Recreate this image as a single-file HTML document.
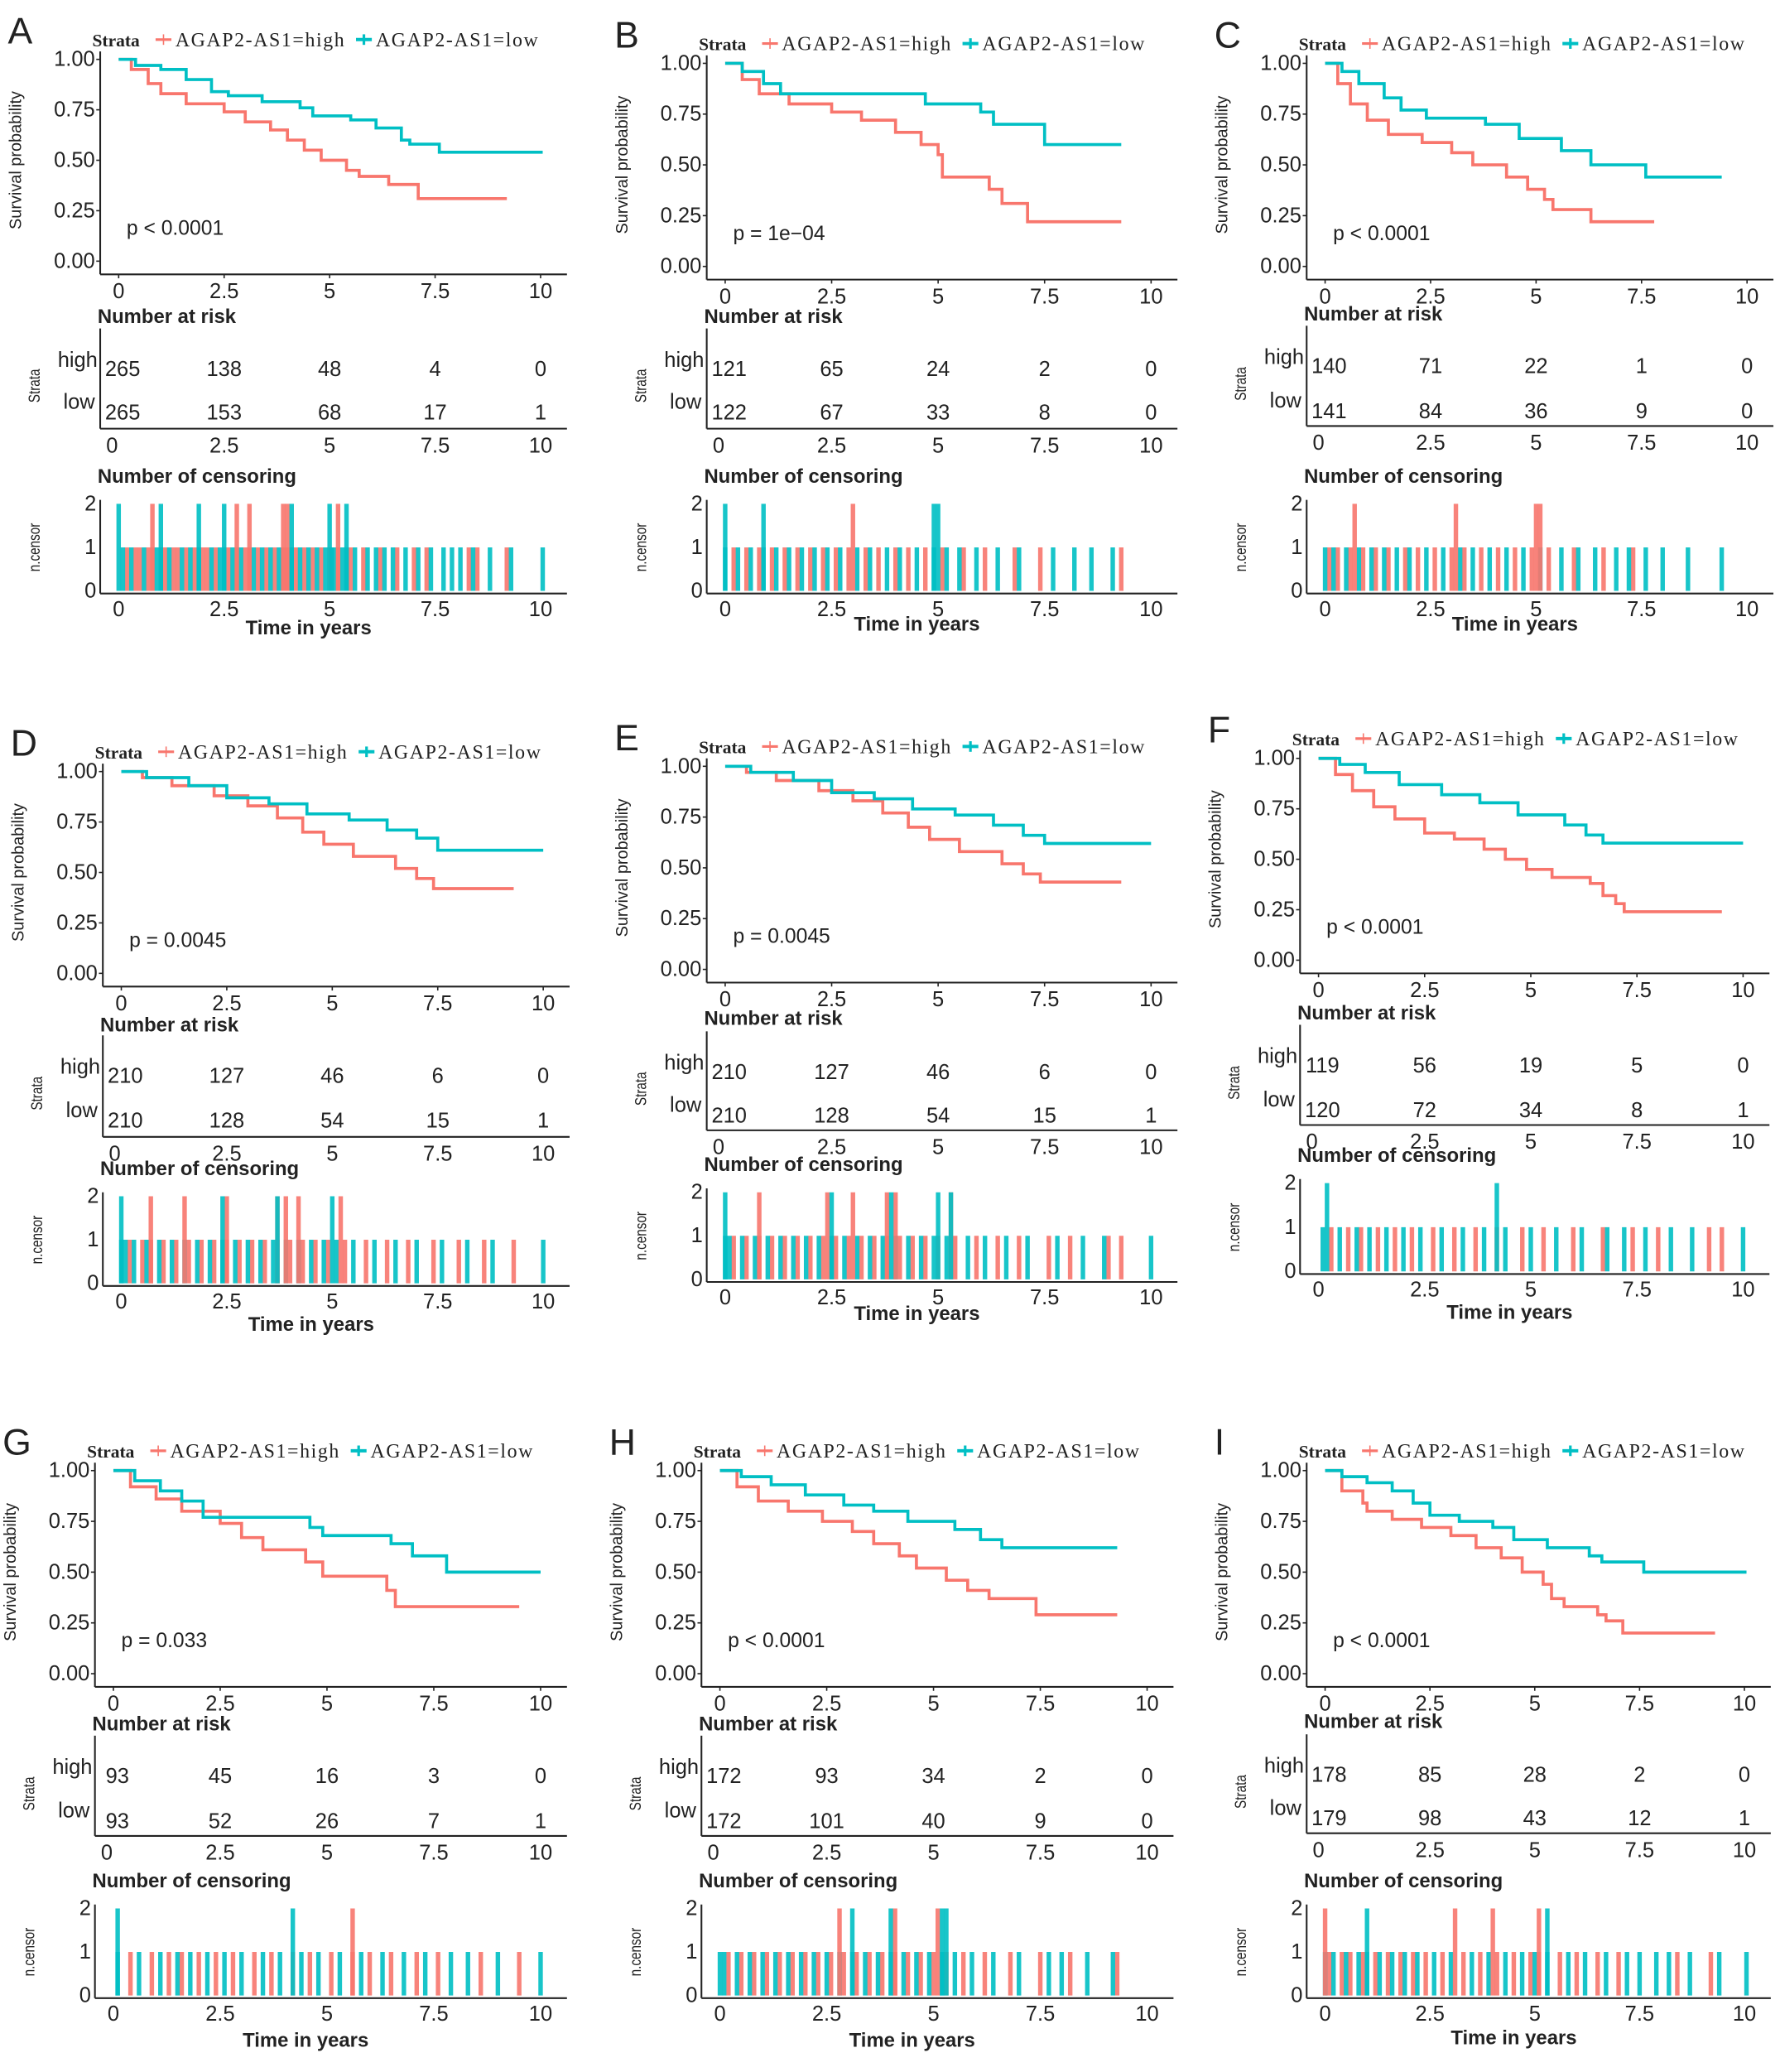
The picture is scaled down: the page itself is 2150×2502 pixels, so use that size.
<!DOCTYPE html>
<html><head><meta charset="utf-8"><style>
html,body{margin:0;padding:0;background:#fff;}
svg{display:block;}
text{font-family:"Liberation Sans",sans-serif;fill:#222;}
.serif{font-family:"Liberation Serif",serif;}
</style></head><body>
<svg id="fig" width="2150" height="2502" viewBox="0 0 1350 1571" xmlns="http://www.w3.org/2000/svg"></svg>
<script>
// ---------- DATA ----------
const ticks = [0, 2.5, 5, 7.5, 10];
const tickLabels = ["0", "2.5", "5", "7.5", "10"];
const panelLetters = ["A","B","C","D","E","F","G","H","I"];
const pValues = ["p < 0.0001","p = 1e\u221204","p < 0.0001","p = 0.0045","p = 0.0045","p < 0.0001","p = 0.033","p < 0.0001","p < 0.0001"];
// survival step curves [time, survival after step]
const survA_high=[[0.3,0.95],[0.7,0.88],[1.0,0.83],[1.6,0.78],[2.5,0.74],[3.0,0.69],[3.6,0.65],[4.0,0.6],[4.4,0.55],[4.8,0.5],[5.4,0.45],[5.7,0.42],[6.4,0.38],[7.1,0.31]];
const survA_low=[[0.4,0.97],[1.0,0.95],[1.6,0.9],[2.2,0.84],[2.6,0.82],[3.4,0.79],[4.3,0.76],[4.6,0.72],[5.5,0.7],[6.1,0.66],[6.7,0.6],[6.9,0.58],[7.6,0.54]];
const survB_high=[[0.4,0.92],[0.8,0.85],[1.5,0.8],[2.5,0.76],[3.2,0.72],[4.0,0.66],[4.6,0.6],[5.0,0.55],[5.1,0.44],[6.2,0.38],[6.5,0.31],[7.1,0.22]];
const survB_low=[[0.4,0.96],[0.9,0.9],[1.3,0.85],[4.7,0.8],[6.0,0.76],[6.3,0.7],[7.5,0.6]];
const survC_high=[[0.3,0.9],[0.6,0.8],[1.0,0.72],[1.5,0.65],[2.3,0.61],[3.0,0.56],[3.5,0.5],[4.3,0.44],[4.8,0.38],[5.2,0.33],[5.4,0.28],[6.3,0.22]];
const survC_low=[[0.4,0.96],[0.8,0.9],[1.4,0.83],[1.8,0.77],[2.4,0.73],[3.8,0.7],[4.6,0.63],[5.6,0.57],[6.3,0.5],[7.6,0.44]];
const survD_high=[[0.5,0.97],[1.2,0.93],[2.2,0.88],[3.0,0.83],[3.7,0.77],[4.3,0.7],[4.8,0.64],[5.5,0.58],[6.5,0.52],[7.0,0.47],[7.4,0.42]];
const survD_low=[[0.6,0.97],[1.6,0.93],[2.5,0.87],[3.5,0.84],[4.4,0.79],[5.4,0.76],[6.3,0.71],[7.0,0.67],[7.5,0.61]];
const survE_high=[[0.5,0.97],[1.2,0.93],[2.2,0.88],[3.0,0.83],[3.7,0.77],[4.3,0.7],[4.8,0.64],[5.5,0.58],[6.5,0.52],[7.0,0.47],[7.4,0.43]];
const survE_low=[[0.6,0.97],[1.6,0.93],[2.5,0.87],[3.5,0.84],[4.4,0.79],[5.4,0.76],[6.3,0.71],[7.0,0.66],[7.5,0.62]];
const survF_high=[[0.4,0.92],[0.8,0.84],[1.3,0.76],[1.8,0.7],[2.5,0.63],[3.2,0.6],[3.9,0.55],[4.4,0.5],[4.9,0.45],[5.5,0.41],[6.4,0.38],[6.7,0.32],[7.0,0.28],[7.2,0.24]];
const survF_low=[[0.5,0.97],[1.1,0.93],[1.9,0.87],[2.9,0.82],[3.8,0.78],[4.7,0.72],[5.8,0.67],[6.3,0.62],[6.7,0.58]];
const survG_high=[[0.4,0.92],[1.0,0.86],[1.6,0.8],[2.5,0.74],[3.0,0.67],[3.5,0.61],[4.5,0.55],[4.9,0.48],[6.4,0.41],[6.6,0.33]];
const survG_low=[[0.5,0.95],[1.1,0.9],[1.6,0.85],[2.1,0.77],[4.6,0.72],[4.9,0.68],[6.5,0.64],[7.0,0.58],[7.8,0.5]];
const survH_high=[[0.4,0.92],[0.9,0.85],[1.6,0.8],[2.4,0.75],[3.1,0.7],[3.6,0.64],[4.2,0.58],[4.6,0.52],[5.3,0.46],[5.8,0.41],[6.3,0.37],[7.4,0.29]];
const survH_low=[[0.5,0.97],[1.2,0.93],[2.0,0.88],[2.9,0.83],[3.6,0.8],[4.4,0.75],[5.5,0.71],[6.1,0.66],[6.6,0.62]];
const survI_high=[[0.4,0.9],[0.9,0.84],[1.0,0.8],[1.6,0.76],[2.3,0.72],[3.0,0.68],[3.6,0.62],[4.2,0.57],[4.7,0.5],[5.2,0.44],[5.4,0.37],[5.7,0.33],[6.5,0.29],[6.7,0.26],[7.1,0.2]];
const survI_low=[[0.4,0.97],[1.0,0.94],[1.6,0.9],[2.1,0.84],[2.5,0.78],[3.2,0.75],[4.0,0.72],[4.5,0.66],[5.3,0.62],[6.3,0.58],[6.6,0.55],[7.6,0.5]];
const endHigh=[9.2,9.3,7.8,9.3,9.3,9.5,9.5,9.3,9.3];
const endLow=[10.05,9.3,9.4,10.0,10.0,10.0,10.0,9.3,10.05];
// risk tables
const riskHigh=[[265,138,48,4,0],[121,65,24,2,0],[140,71,22,1,0],[210,127,46,6,0],[210,127,46,6,0],[119,56,19,5,0],[93,45,16,3,0],[172,93,34,2,0],[178,85,28,2,0]];
const riskLow=[[265,153,68,17,1],[122,67,33,8,0],[141,84,36,9,0],[210,128,54,15,1],[210,128,54,15,1],[120,72,34,8,1],[93,52,26,7,1],[172,101,40,9,0],[179,98,43,12,1]];
// censoring times (count 1) and times with count 2
const censHighA=[0.2,0.4,0.5,0.7,0.8,1.1,1.3,1.4,1.6,1.8,2.0,2.1,2.3,2.6,2.8,3.0,3.1,3.3,3.5,3.7,3.9,4.0,4.2,4.4,4.6,4.8,5.0,5.2,5.5,5.8,6.2,6.6,7.0,7.3,8.3,8.5,9.2];
const censLowA=[0.1,0.3,0.6,0.9,1.0,1.2,1.5,1.7,1.9,2.2,2.4,2.5,2.7,2.9,3.2,3.4,3.6,3.8,4.1,4.3,4.5,4.7,4.9,5.05,5.1,5.3,5.4,5.6,5.9,6.1,6.3,6.5,6.8,7.1,7.4,7.7,7.9,8.1,8.4,8.8,9.3,10.05];
const cens2HighA=[0.8,2.8,3.1,3.9,4.0,5.2];const cens2LowA=[0.0,1.0,1.9,2.5,4.1,5.0,5.4];
const censHighB=[0.2,0.5,0.8,1.1,1.4,1.7,2.0,2.3,2.6,2.9,3.3,3.6,4.0,4.3,4.7,5.1,5.6,6.1,6.8,7.4,9.3];
const censLowB=[0.0,0.3,0.6,0.9,1.2,1.5,1.8,2.1,2.4,2.7,3.1,3.4,3.8,4.1,4.5,4.9,5.2,5.5,5.9,6.4,6.9,7.7,8.2,8.6,9.1];
const cens2HighB=[3.0];const cens2LowB=[0.0,0.9,4.9,5.0];
const censHighC=[0.1,0.3,0.6,0.9,1.2,1.5,1.9,2.2,2.6,3.0,3.3,3.7,4.1,4.5,4.9,5.3,5.9,6.6,7.3];
const censLowC=[0.0,0.2,0.5,0.8,1.1,1.4,1.7,2.0,2.4,2.8,3.2,3.5,3.9,4.3,4.7,5.1,5.6,6.0,6.4,6.9,7.2,7.6,8.0,8.6,9.4];
const cens2HighC=[0.7,3.1,5.0,5.1];const cens2LowC=[];
const censHighD=[0.2,0.5,0.7,1.0,1.3,1.6,1.9,2.2,2.5,2.8,3.1,3.4,3.7,4.0,4.3,4.6,4.9,5.3,5.8,6.3,6.8,7.4,8.0,8.6,9.3];
const censLowD=[0.0,0.1,0.3,0.6,0.9,1.2,1.5,1.8,2.1,2.4,2.7,3.0,3.3,3.6,3.9,4.2,4.5,4.8,5.1,5.5,6.0,6.5,7.0,7.6,8.2,8.8,10.0];
const cens2HighD=[0.7,1.5,2.5,3.7,3.9,4.2,5.2];const cens2LowD=[0.0,2.4,3.7,5.0];
const censHighE=[0.2,0.5,0.8,1.1,1.4,1.7,2.0,2.3,2.6,2.9,3.2,3.5,3.8,4.1,4.4,4.7,5.0,5.4,5.9,6.4,6.9,7.6,8.1,9.0,9.3];
const censLowE=[0.0,0.1,0.4,0.7,1.0,1.3,1.6,1.9,2.2,2.5,2.8,3.1,3.4,3.7,4.0,4.3,4.6,4.9,5.2,5.7,6.1,6.6,7.1,7.8,8.4,8.9,10.0];
const cens2HighE=[0.8,2.4,3.0,3.8,4.0,5.3];const cens2LowE=[0.0,2.5,3.9,5.0,5.3];
const censHighF=[0.3,0.7,1.0,1.4,1.8,2.2,2.7,3.2,3.7,4.2,4.8,5.3,6.0,6.7,7.4,8.0,9.2,9.5];
const censLowF=[0.1,0.5,0.9,1.2,1.6,2.0,2.4,2.9,3.4,3.9,4.4,5.0,5.6,6.2,6.8,7.2,7.7,8.3,8.8,10.0];
const cens2HighF=[];const cens2LowF=[0.2,4.2];
const censHighG=[0.4,0.9,1.3,1.6,2.0,2.4,2.8,3.3,3.7,4.2,4.6,5.1,5.6,6.0,6.5,7.1,7.6,8.6,9.5];
const censLowG=[0.1,0.6,1.1,1.5,1.8,2.2,2.6,3.0,3.5,3.9,4.4,4.8,5.3,5.8,6.3,6.8,7.3,7.9,8.3,9.0,10.0];
const cens2HighG=[5.6];const cens2LowG=[0.1,4.2];
const censHighH=[0.2,0.5,0.8,1.1,1.4,1.7,2.0,2.3,2.6,2.9,3.2,3.5,3.8,4.1,4.4,4.7,5.0,5.3,5.7,6.2,6.8,7.5,8.2,9.3];
const censLowH=[0.0,0.1,0.4,0.7,1.0,1.3,1.6,1.9,2.2,2.5,2.8,3.1,3.4,3.7,4.0,4.3,4.6,4.9,5.2,5.5,5.9,6.4,7.0,7.7,8.0,8.6,9.2];
const cens2HighH=[2.8,4.1,5.1];const cens2LowH=[3.1,4.0,5.2,5.3];
const censHighI=[0.1,0.4,0.6,0.9,1.2,1.5,1.8,2.1,2.4,2.8,3.3,3.7,4.1,4.5,4.9,5.1,5.6,6.0,6.5,7.0,8.4,9.2];
const censLowI=[0.0,0.2,0.5,0.8,1.0,1.3,1.6,1.9,2.2,2.6,3.0,3.5,3.9,4.3,4.7,5.0,5.3,5.8,6.2,6.7,7.2,7.5,7.9,8.2,8.7,9.4,10.05];
const cens2HighI=[0.0,3.1,4.0,5.1];const cens2LowI=[1.0,5.3];

// ---------- LAYOUT (overview coords) ----------
const layout=[
 {t0:90,t10:410,y1:45,y0:198,rh:279,rl:312,rt:338,c2:382,c0:448,tl:481},
 {t0:550,t10:873,y1:48,y0:202,rh:279,rl:312,rt:338,c2:382,c0:448,tl:478},
 {t0:1005,t10:1325,y1:48,y0:202,rh:277,rl:311,rt:336,c2:382,c0:448,tl:478},
 {t0:92,t10:412,y1:585,y0:738,rh:815,rl:849,rt:875,c2:907,c0:973,tl:1009},
 {t0:550,t10:873,y1:581,y0:735,rh:812,rl:845,rt:870,c2:904,c0:970,tl:1001},
 {t0:1000,t10:1322,y1:575,y0:728,rh:807,rl:841,rt:866,c2:897,c0:964,tl:1000},
 {t0:86,t10:410,y1:1115,y0:1269,rh:1346,rl:1380,rt:1405,c2:1447,c0:1513,tl:1552},
 {t0:546,t10:870,y1:1115,y0:1269,rh:1346,rl:1380,rt:1405,c2:1447,c0:1513,tl:1552},
 {t0:1005,t10:1323,y1:1115,y0:1269,rh:1345,rl:1378,rt:1403,c2:1447,c0:1513,tl:1550}
];
const survHigh=[survA_high,survB_high,survC_high,survD_high,survE_high,survF_high,survG_high,survH_high,survI_high];
const survLow=[survA_low,survB_low,survC_low,survD_low,survE_low,survF_low,survG_low,survH_low,survI_low];
const censHigh=[censHighA,censHighB,censHighC,censHighD,censHighE,censHighF,censHighG,censHighH,censHighI];
const censLow=[censLowA,censLowB,censLowC,censLowD,censLowE,censLowF,censLowG,censLowH,censLowI];
const cens2High=[cens2HighA,cens2HighB,cens2HighC,cens2HighD,cens2HighE,cens2HighF,cens2HighG,cens2HighH,cens2HighI];
const cens2Low=[cens2LowA,cens2LowB,cens2LowC,cens2LowD,cens2LowE,cens2LowF,cens2LowG,cens2LowH,cens2LowI];

const RED="#F8766D", TEAL="#00BFC4", NS="http://www.w3.org/2000/svg";
const svg=document.getElementById('fig');
function mk(tag,attrs,parent,txt){const e=document.createElementNS(NS,tag);for(const k in attrs)e.setAttribute(k,attrs[k]);if(txt!==undefined)e.textContent=txt;(parent||svg).appendChild(e);return e;}

layout.forEach((L,i)=>{
  const g=mk('g',{});
  
  
  const x=t=>L.t0+(L.t10-L.t0)*t/10;
  const y=s=>L.y0-(L.y0-L.y1)*s;
  const axX=L.t0-14, axR=L.t10+20;
  const lt=mk('text',{x:L.t0-84,y:L.y1-12,'font-size':28},g,panelLetters[i]);
  
  
  const lg=mk('g',{class:'serif'},g);
  
  
  mk('text',{x:L.t0-20,y:L.y1-10,'font-size':13.5,'font-weight':'bold',class:'serif',fill:'#333'},lg,'Strata');
  mk('line',{x1:L.t0+28,x2:L.t0+40,y1:L.y1-15,y2:L.y1-15,stroke:RED,'stroke-width':2},lg);
  mk('line',{x1:L.t0+34,x2:L.t0+34,y1:L.y1-19,y2:L.y1-11,stroke:RED,'stroke-width':1},lg);
  const h=mk('text',{x:L.t0+43,y:L.y1-10,'font-size':15,class:'serif',textLength:128},lg,'AGAP2-AS1=high');
  
  
  mk('line',{x1:L.t0+180,x2:L.t0+192,y1:L.y1-15,y2:L.y1-15,stroke:TEAL,'stroke-width':2.5},lg);
  mk('line',{x1:L.t0+186,x2:L.t0+186,y1:L.y1-19,y2:L.y1-11,stroke:TEAL,'stroke-width':2},lg);
  const lo=mk('text',{x:L.t0+195,y:L.y1-10,'font-size':15,class:'serif',textLength:123},lg,'AGAP2-AS1=low');
  
  
  mk('line',{x1:axX,x2:axX,y1:L.y1-6,y2:L.y0+10,stroke:'#222','stroke-width':1.3},g);
  mk('line',{x1:axX,x2:axR,y1:L.y0+10,y2:L.y0+10,stroke:'#222','stroke-width':1.3},g);
  [0,0.25,0.5,0.75,1].forEach(v=>{
    mk('line',{x1:axX-3,x2:axX,y1:y(v),y2:y(v),stroke:'#222'},g);
    const t=mk('text',{x:axX-4,y:y(v)+5,'font-size':16,'text-anchor':'end',fill:'#333'},g,v.toFixed(2));
    
    
  });
  ticks.forEach((v,k)=>{
    mk('line',{x1:x(v),x2:x(v),y1:L.y0+10,y2:L.y0+13,stroke:'#222'},g);
    const t=mk('text',{x:x(v),y:L.y0+28,'font-size':16,'text-anchor':'middle',fill:'#333'},g,tickLabels[k]);
    
    
  });
  const yt=mk('text',{transform:`translate(${L.t0-74},${(L.y0+L.y1)/2}) rotate(-90)`,'font-size':12.5,'text-anchor':'middle',fill:'#333'},g,'Survival probability');
  
  
  const pv=mk('text',{x:L.t0+6,y:L.y0-20,'font-size':15.5},g,pValues[i]);
  
  
  [[survHigh[i],endHigh[i],RED,'high'],[survLow[i],endLow[i],TEAL,'low']].forEach(([d,end,c,nm])=>{
    let p=`M${x(0)},${y(1)}`;
    d.forEach(([t,s])=>{p+=` H${x(t)} V${y(s)}`;});
    p+=` H${x(end)}`;
    const pa=mk('path',{d:p,fill:'none',stroke:c,'stroke-width':2.3},g);
    
    
  });
  const rk=mk('text',{x:L.t0-16,y:L.rt-93,'font-size':15,'font-weight':'bold',fill:'#333'},g,'Number at risk');
  
  
  mk('line',{x1:axX,x2:axX,y1:L.rh-30,y2:L.rt-13,stroke:'#222','stroke-width':1.3},g);
  mk('line',{x1:axX,x2:axR,y1:L.rt-13,y2:L.rt-13,stroke:'#222','stroke-width':1.3},g);
  mk('text',{x:axX-2,y:L.rh-1,'font-size':16,'text-anchor':'end',fill:RED},g,'high');
  mk('text',{x:axX-4,y:L.rl-2,'font-size':16,'text-anchor':'end',fill:TEAL},g,'low');
  mk('text',{transform:`translate(${L.t0-60},${(L.rh+L.rl)/2-3}) rotate(-90) scale(0.8,1)`,'font-size':12,'text-anchor':'middle'},g,'Strata');
  ticks.forEach((v,k)=>{
    const a=mk('text',{x:x(v)+(k==0?3:0),y:L.rh+6,'font-size':16,'text-anchor':'middle'},g,riskHigh[i][k]);
    
    
    const b=mk('text',{x:x(v)+(k==0?3:0),y:L.rl+6,'font-size':16,'text-anchor':'middle'},g,riskLow[i][k]);
    
    
    mk('text',{x:x(v)-(k==0?5:0),y:L.rt+5,'font-size':16,'text-anchor':'middle',fill:'#333'},g,tickLabels[k]);
  });
  const cy=n=>L.c0-(L.c0-L.c2)*n/2;
  const ct=mk('text',{x:L.t0-16,y:L.c2-16,'font-size':15,'font-weight':'bold',fill:'#333'},g,'Number of censoring');
  
  
  [[censHigh[i],1,RED],[censLow[i],1,TEAL],[cens2High[i],2,RED],[cens2Low[i],2,TEAL]].forEach(([arr,n,c])=>{
    arr.forEach(t=>{
      const b=mk('line',{x1:x(t),x2:x(t),y1:cy(0),y2:cy(n),stroke:c,'stroke-width':3.4,opacity:0.9},g);
      
      
    });
  });
  mk('line',{x1:axX,x2:axX,y1:L.c2-3,y2:L.c0+2,stroke:'#222','stroke-width':1.3},g);
  mk('line',{x1:axX,x2:axR,y1:L.c0+2,y2:L.c0+2,stroke:'#222','stroke-width':1.3},g);
  [0,1,2].forEach(n=>mk('text',{x:axX-3,y:cy(n)+5,'font-size':16,'text-anchor':'end',fill:'#333'},g,n));
  mk('text',{transform:`translate(${L.t0-60},${(L.c0+L.c2)/2}) rotate(-90) scale(0.8,1)`,'font-size':12,'text-anchor':'middle'},g,'n.censor');
  ticks.forEach((v,k)=>mk('text',{x:x(v),y:L.c0+19,'font-size':16,'text-anchor':'middle',fill:'#333'},g,tickLabels[k]));
  const xt=mk('text',{x:x(4.5),y:L.tl,'font-size':15,'font-weight':'bold','text-anchor':'middle',fill:'#333'},g,'Time in years');
  
  
});
</script>
</body></html>
